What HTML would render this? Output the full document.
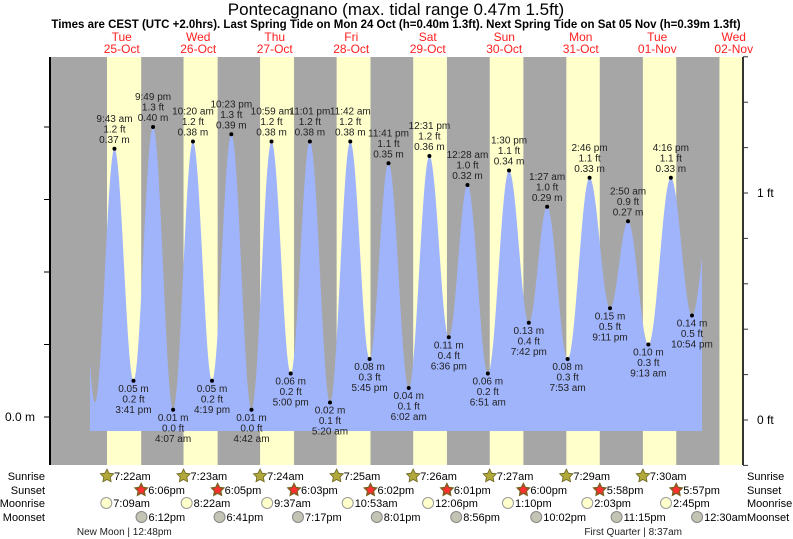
<!DOCTYPE html>
<html><head><meta charset="utf-8"><style>
body{margin:0;background:#fff;}
svg{display:block;font-family:"Liberation Sans",sans-serif;}
</style></head><body>
<svg id="chart" width="793" height="539" viewBox="0 0 793 539">
<text x="396" y="15" text-anchor="middle" font-size="17" fill="#000">Pontecagnano (max. tidal range 0.47m 1.5ft)</text>
<text x="396" y="28" text-anchor="middle" font-size="11.5" font-weight="bold" fill="#000">Times are CEST (UTC +2.0hrs). Last Spring Tide on Mon 24 Oct (h=0.40m 1.3ft). Next Spring Tide on Sat 05 Nov (h=0.39m 1.3ft)</text>
<g id="bg"></g><g id="fill"></g><g id="axes"></g><g id="labels"></g><g id="bottom"></g>
</svg>
<script>
const dayNames=["Tue","Wed","Thu","Fri","Sat","Sun","Mon","Tue","Wed"];
const dayDates=["25-Oct","26-Oct","27-Oct","28-Oct","29-Oct","30-Oct","31-Oct","01-Nov","02-Nov"];
const sunrise=["7:22am","7:23am","7:24am","7:25am","7:26am","7:27am","7:29am","7:30am","7:31am"];
const sunset=["6:06pm","6:05pm","6:03pm","6:02pm","6:01pm","6:00pm","5:58pm","5:57pm","5:56pm"];
const moonriseDay=[0,1,2,3,4,5,6,7];
const moonrise=["7:09am","8:22am","9:37am","10:53am","12:06pm","1:10pm","2:03pm","2:45pm"];
const moonsetDay=[0,1,2,3,4,5,6,8];
const moonset=["6:12pm","6:41pm","7:17pm","8:01pm","8:56pm","10:02pm","11:15pm","12:30am"];
const tideDay=[-1,0,0,0,0,1,1,1,1,2,2,2,2,3,3,3,3,4,4,4,5,5,5,5,6,6,6,6,7,7,7,7,8];
const tideTime=["9:20pm","3:35am","9:43am","3:41pm","9:49pm","4:07am","10:20am","4:19pm","10:23pm","4:42am","10:59am","5:00pm","11:01pm","5:20am","11:42am","5:45pm","11:41pm","6:02am","12:31pm","6:36pm","12:28am","6:51am","1:30pm","7:42pm","1:27am","7:53am","2:46pm","9:11pm","2:50am","9:13am","4:16pm","10:54pm","5:10am"];
const tideM=[0.40,0.02,0.37,0.05,0.40,0.01,0.38,0.05,0.39,0.01,0.38,0.06,0.38,0.02,0.38,0.08,0.35,0.04,0.36,0.11,0.32,0.06,0.34,0.13,0.29,0.08,0.33,0.15,0.27,0.10,0.33,0.14,0.30];
const tideFt=["1.3","0.1","1.2","0.2","1.3","0.0","1.2","0.2","1.3","0.0","1.2","0.2","1.2","0.1","1.2","0.3","1.1","0.1","1.2","0.4","1.0","0.2","1.1","0.4","1.0","0.3","1.1","0.5","0.9","0.3","1.1","0.5","1.0"];
const shownFrom=2, shownTo=31;
const mTicks=[0,0.1,0.2,0.3,0.4];
const ftTicks=[-0.2,0,0.2,0.4,0.6,0.8,1,1.2,1.4,1.6,1.8];

const NS="http://www.w3.org/2000/svg";
const X0=83.5, DW=76.5, L=50, R=743, T=57, B=465, FILLX0=90, FILLX1=702, FILLB=431;
function hrs(s){const m=s.match(/(\d+):(\d+)\s*(am|pm)/);let h=+m[1]%12;if(m[3]=="pm")h+=12;return h+ +m[2]/60;}
function X(d,s){return X0+(d+hrs(s)/24)*DW;}
function Y(m){return 417-m*725;}
function YF(ft){return 420-ft*227;}
function el(tag,attrs,parent,txt){const e=document.createElementNS(NS,tag);for(const k in attrs)e.setAttribute(k,attrs[k]);if(txt!=null)e.textContent=txt;parent.appendChild(e);return e;}
function fmt(s){return s.replace(/(am|pm)/," $1");}
const bg=document.getElementById('bg'),fillG=document.getElementById('fill'),ax=document.getElementById('axes'),lab=document.getElementById('labels'),bot=document.getElementById('bottom');
let r=el('rect',{x:L,y:T,width:R-L,height:B-T,fill:'#a6a6a6'},bg);


for(let d=0;d<dayNames.length;d++){
  const x1=Math.max(L,X(d,sunrise[d])),x2=Math.min(R,X(d,sunset[d]));
  if(x2>x1){const b=el('rect',{x:x1,y:T,width:x2-x1,height:B-T,fill:'#ffffcc'},bg);
  
  }
  const cx=X0+(d+0.5)*DW;
  const t1=el('text',{x:cx,y:41,'text-anchor':'middle','font-size':12,fill:'#ff2020'},bg,dayNames[d]);
  
  
  const t2=el('text',{x:cx,y:53,'text-anchor':'middle','font-size':12,fill:'#ff2020'},bg,dayDates[d]);
  
  
}
const px=tideDay.map((d,i)=>X(d,tideTime[i]));
let pts=[];
for(let x=FILLX0;x<=FILLX1;x+=1){
  let i=0;while(i<px.length-2&&px[i+1]<x)i++;
  const f=(x-px[i])/(px[i+1]-px[i]);
  const v=tideM[i]+(tideM[i+1]-tideM[i])*(1-Math.cos(Math.PI*f))/2;
  pts.push(x.toFixed(1)+','+Y(v).toFixed(1));
}
const poly=el('polygon',{points:FILLX0+','+FILLB+' '+pts.join(' ')+' '+FILLX1+','+FILLB,fill:'#a0b4fc'},fillG);


let a=el('line',{x1:L,y1:T,x2:L,y2:B,stroke:'#000','stroke-width':2},ax);


a=el('line',{x1:R,y1:T,x2:R,y2:B,stroke:'#333','stroke-width':2},ax);


mTicks.forEach(m=>{const t=el('line',{x1:L-6,y1:Y(m),x2:L,y2:Y(m),stroke:'#000'},ax);
  
  });
const ml=el('text',{x:35,y:421,'text-anchor':'end','font-size':12},ax,'0.0 m');


ftTicks.forEach(f=>{const y=YF(f);if(y<T-1||y>B+1)return;const t=el('line',{x1:R,y1:y,x2:R+5,y2:y,stroke:'#333'},ax);
  
  
  if(Math.abs(f-Math.round(f))<1e-9){const tx=el('text',{x:757,y:y+4,'font-size':12},ax,Math.round(f)+' ft');
  
  }});
for(let i=shownFrom;i<=shownTo;i++){
  const x=px[i],y=Y(tideM[i]);
  const hi=tideM[i]>Math.min(tideM[i-1],tideM[i+1]) && tideM[i]>=Math.max(tideM[i-1],tideM[i+1])-0.001 || tideM[i]>0.2;
  const c=el('circle',{cx:x,cy:y,r:2,fill:'#000'},lab);
  
  
  const lines=hi?[fmt(tideTime[i]),tideFt[i]+' ft',tideM[i].toFixed(2)+' m']:[tideM[i].toFixed(2)+' m',tideFt[i]+' ft',fmt(tideTime[i])];
  const y0=hi?y-27:y+11;
  lines.forEach((s,k)=>{const t=el('text',{x:x,y:y0+k*10.5,'text-anchor':'middle','font-size':10,fill:'#222'},lab,s);
    
    });
}
[['Sunrise',476],['Sunset',490],['Moonrise',503],['Moonset',517]].forEach(([n,y])=>{
  const a1=el('text',{x:45,y:y+4,'text-anchor':'end','font-size':11},bot,n);
  
  
  const a2=el('text',{x:747,y:y+4,'font-size':11},bot,n);
  
  
});
function star(cx,cy,fill,inner){let p=[];for(let k=0;k<10;k++){const rr=k%2?3.5:7,an=-Math.PI/2+k*Math.PI/5;p.push((cx+rr*Math.cos(an)).toFixed(1)+','+(cy+rr*Math.sin(an)).toFixed(1));}
  const s=el('polygon',{points:p.join(' '),fill:fill,stroke:'#6b6420','stroke-width':0.8},bot);
  if(inner)el('circle',{cx:cx,cy:cy,r:3,fill:inner},bot);return s;}
for(let d=0;d<8;d++){
  let x=X(d,sunrise[d]);let s=star(x,476,'#b0a83a');
  
  
  let t=el('text',{x:x+7,y:480,'font-size':11},bot,sunrise[d]);
  
  
  x=X(d,sunset[d]);s=star(x,490,'#b04a20','#ff3030');
  
  
  t=el('text',{x:x+7,y:494,'font-size':11},bot,sunset[d]);
  
  
}
moonrise.forEach((m,i)=>{const x=X(moonriseDay[i],m);
  const c=el('circle',{cx:x,cy:503,r:5.5,fill:'#ffffcc',stroke:'#999'},bot);
  
  
  const t=el('text',{x:x+7,y:507,'font-size':11},bot,m);
  
  });
moonset.forEach((m,i)=>{const x=X(moonsetDay[i],m);
  const c=el('circle',{cx:x,cy:517,r:5.5,fill:'#c4c4b4',stroke:'#888'},bot);
  
  
  const t=el('text',{x:x+7,y:521,'font-size':11},bot,m);
  
  });
const phases=[[0,"12:48pm","New Moon"],[7,"8:37am","First Quarter"]];
phases.forEach(([d,tm,n])=>{const x=X(d,tm);
  const t=el('text',{x:x,y:535,'text-anchor':'middle','font-size':10,fill:'#222'},bot,n+' | '+tm);
  
  
  const w=t.getComputedTextLength?t.getComputedTextLength():0;
  const pre=(n+' ').length/(n+' | '+tm).length;
  t.setAttribute('x',x-w*pre+w/2);});
</script>
</body></html>
